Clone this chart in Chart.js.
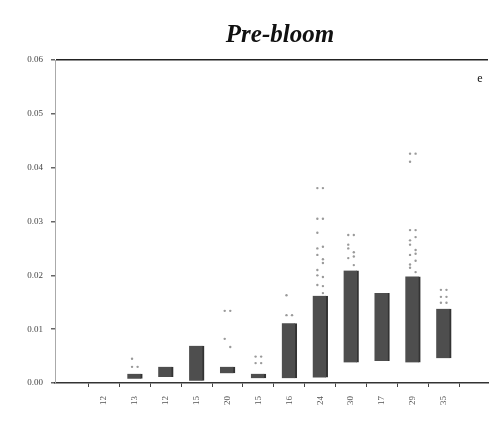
<!DOCTYPE html>
<html lang="en">
<head>
    <meta charset="UTF-8">
    <title>Pre-bloom</title>
    <script src="https://cdn.jsdelivr.net/npm/chart.js"></script>
    <style>
        body { margin: 0; background: #fff; }
        .wrap { width: 496px; height: 422px; position: relative; }
    </style>
</head>
<body>
<div class="wrap"><canvas id="chart" width="496" height="422"></canvas></div>
<script>
// categories along the x axis (hard to read in the scan)
const labels = ['12', '13', '12', '15', '20', '15', '16', '24', '30', '17', '29', '35'];
// floating bar ranges: low / high
const barLow  = [null, 0.0008, 0.0011, 0.0004, 0.0018, 0.0009, 0.0009, 0.0010, 0.0038, 0.0041, 0.0038, 0.0046];
const barHigh = [null, 0.0017, 0.0030, 0.0069, 0.0030, 0.0017, 0.0111, 0.0162, 0.0209, 0.0167, 0.0198, 0.0138];
// outlier dots above each bar, per category
const outliers = [
    [],
    [0.0045, 0.0030, 0.0030],
    [],
    [],
    [0.0134, 0.0134, 0.0082, 0.0067],
    [0.0049, 0.0049, 0.0037, 0.0037],
    [0.0163, 0.0126, 0.0126],
    [0.0362, 0.0362, 0.0305, 0.0305, 0.0279, 0.0253, 0.0238, 0.0223, 0.0210, 0.0197, 0.0182, 0.0167, 0.0250, 0.0230, 0.0200, 0.0180],
    [0.0275, 0.0275, 0.0257, 0.0243, 0.0232, 0.0219, 0.0250, 0.0235],
    [],
    [0.0426, 0.0426, 0.0411, 0.0284, 0.0284, 0.0271, 0.0257, 0.0247, 0.0238, 0.0227, 0.0214, 0.0206, 0.0265, 0.0240, 0.0220],
    [0.0173, 0.0173, 0.0160, 0.0160, 0.0149, 0.0149]
];
const yTicks = [0, 0.01, 0.02, 0.03, 0.04, 0.05, 0.06];

const barData = labels.map((l, i) => barLow[i] === null ? null : { x: i, y: [barLow[i], barHigh[i]] }).filter(d => d);
const dotData = [];
outliers.forEach((vals, i) => {
    vals.forEach((v, k) => dotData.push({ x: i + (k % 2 ? 0.09 : -0.09), y: v }));
});

const decor = {
    id: 'decor',
    afterDraw(chart) {
        const c = chart.ctx, a = chart.chartArea;
        c.save();
        c.fillStyle = '#111';
        c.font = 'italic bold 25px "Liberation Serif"';
        c.textAlign = 'center';
        c.fillText('Pre-bloom', 280, 42);
        c.font = '12px "Liberation Serif"';
        c.fillText('e', a.right - 8, a.top + 22);
        c.restore();
    }
};

new Chart(document.getElementById('chart'), {
    type: 'bar',
    data: {
        datasets: [{
            data: barData,
            backgroundColor: '#4e4e4e',
            borderColor: '#333',
            borderWidth: { right: 2 },
            borderSkipped: false,
            barThickness: 15,
            grouped: false
        }, {
            type: 'scatter',
            data: dotData,
            pointRadius: 1.2,
            pointBackgroundColor: '#9a9a9a',
            pointBorderWidth: 0
        }]
    },
    options: {
        responsive: false,
        animation: false,
        layout: { padding: { top: 60, right: 8 } },
        plugins: { legend: { display: false }, tooltip: { enabled: false } },
        scales: {
            x: {
                type: 'linear',
                min: -1,
                max: 11.85,
                afterFit: s => { s.height = 39; },
                afterBuildTicks: s => { s.ticks = labels.map((l, i) => ({ value: i })); },
                ticks: {
                    callback: v => labels[v] ?? '',
                    minRotation: 90, maxRotation: 90,
                    color: '#555',
                    font: { family: 'Liberation Serif', size: 9 },
                    padding: 9
                },
                grid: { drawOnChartArea: false, tickLength: 4, color: '#444' },
                border: { color: '#333', width: 1.5 }
            },
            y: {
                min: 0,
                max: 0.06,
                afterFit: s => { s.width = 55; },
                afterBuildTicks: s => { s.ticks = yTicks.map(v => ({ value: v })); },
                ticks: {
                    callback: v => v.toFixed(2),
                    color: '#444',
                    font: { family: 'Liberation Serif', size: 9 },
                    padding: 8
                },
                grid: {
                    color: ctx => ctx.tick && ctx.tick.value === 0.06 ? '#222' : 'rgba(0,0,0,0)',
                    lineWidth: 1.5,
                    tickLength: 4,
                    tickColor: '#666'
                },
                border: { color: '#aaa', width: 1 }
            }
        }
    },
    plugins: [decor]
});
</script>
</body>
</html>
